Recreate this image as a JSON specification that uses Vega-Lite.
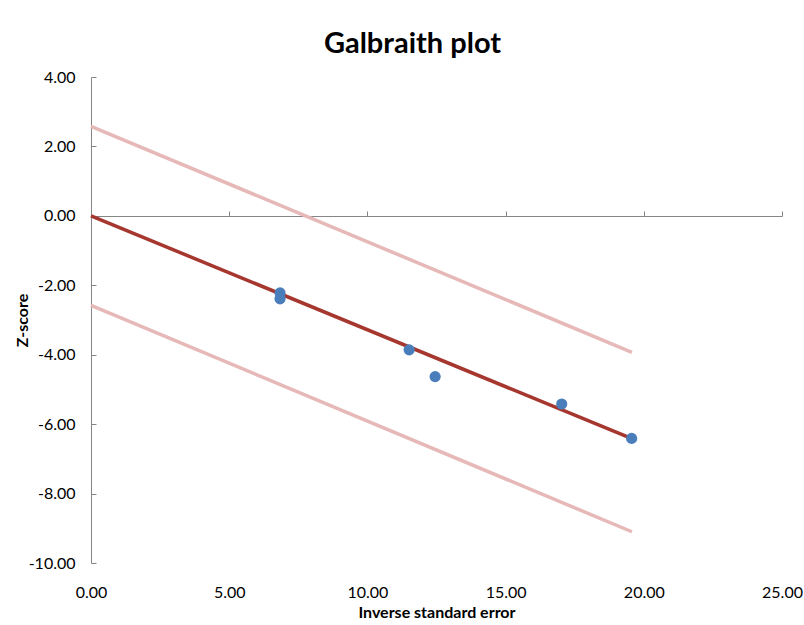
{
  "$schema": "https://vega.github.io/schema/vega-lite/v6.json",
  "width": 691,
  "height": 486,
  "autosize": "none",
  "padding": {"left": 91, "top": 77, "right": 22, "bottom": 62},
  "background": "white",
  "config": {
    "font": "Lato",
    "locale": {"number": {"decimal": ".", "thousands": ",", "grouping": [3], "currency": ["$", ""], "minus": "-"}},
    "view": {"stroke": null},
    "axis": {"grid": false, "domainColor": "#868686", "tickColor": "#868686", "labelColor": "#000000", "titleColor": "#000000", "labelFlush": false}
  },
  "title": {
    "text": "Galbraith plot",
    "fontSize": 29,
    "fontWeight": "bold",
    "font": "Lato",
    "color": "#000000",
    "anchor": "middle",
    "dx": -24,
    "dy": 37,
    "baseline": "bottom",
    "offset": 18
  },
  "datasets": {
    "lines": [
      {"series": "fit", "x": 0, "y": 0},
      {"series": "fit", "x": 19.57, "y": -6.42},
      {"series": "upper", "x": 0, "y": 2.58},
      {"series": "upper", "x": 19.57, "y": -3.93},
      {"series": "lower", "x": 0, "y": -2.58},
      {"series": "lower", "x": 19.57, "y": -9.1}
    ],
    "points": [
      {"x": 6.84, "y": -2.22},
      {"x": 6.84, "y": -2.39},
      {"x": 11.51, "y": -3.86},
      {"x": 12.45, "y": -4.63},
      {"x": 17.03, "y": -5.42},
      {"x": 19.56, "y": -6.41}
    ]
  },
  "resolve": {"axis": {"x": "independent", "y": "independent"}},
  "layer": [
    {
      "data": {"name": "lines"},
      "mark": {"type": "line", "strokeWidth": 3.5},
      "encoding": {
        "x": {
          "field": "x", "type": "quantitative",
          "scale": {"domain": [0, 25], "nice": false, "zero": false},
          "axis": {
            "orient": "bottom", "values": [0, 5, 10, 15, 20, 25], "format": ".2f",
            "domain": false, "ticks": false, "tickSize": 0, "labelPadding": 21,
            "labelFontSize": 16, "title": "Inverse standard error", "titleFontSize": 16,
            "titleFontWeight": "bold", "titlePadding": 4
          }
        },
        "y": {
          "field": "y", "type": "quantitative",
          "scale": {"domain": [-10, 4], "nice": false, "zero": false},
          "axis": {
            "orient": "left", "values": [-10, -8, -6, -4, -2, 0, 2, 4], "format": ".2f",
            "domain": true, "ticks": false, "tickSize": 0, "labelPadding": 16,
            "labelFontSize": 16, "title": "Z-score", "titleFontSize": 16,
            "titleFontWeight": "bold", "titlePadding": -2
          }
        },
        "color": {
          "field": "series", "type": "nominal",
          "scale": {"domain": ["fit", "upper", "lower"], "range": ["#A5372F", "#E6B9B8", "#E6B9B8"]},
          "legend": null
        },
        "order": {"field": "x"}
      }
    },
    {
      "data": {"name": "points"},
      "mark": {"type": "point", "filled": true, "shape": "circle", "size": 125, "opacity": 1, "color": "#4A7EBB"},
      "encoding": {
        "x": {
          "field": "x", "type": "quantitative",
          "scale": {"domain": [0, 25], "nice": false, "zero": false},
          "axis": {
            "orient": "top", "offset": -139, "values": [0, 5, 10, 15, 20, 25],
            "labels": false, "domain": true, "ticks": true, "tickSize": 5, "title": null
          }
        },
        "y": {
          "field": "y", "type": "quantitative",
          "scale": {"domain": [-10, 4], "nice": false, "zero": false},
          "axis": {
            "orient": "right", "offset": -691, "values": [-10, -8, -6, -4, -2, 0, 2, 4],
            "labels": false, "domain": false, "ticks": true, "tickSize": 5, "title": null
          }
        }
      }
    }
  ]
}
